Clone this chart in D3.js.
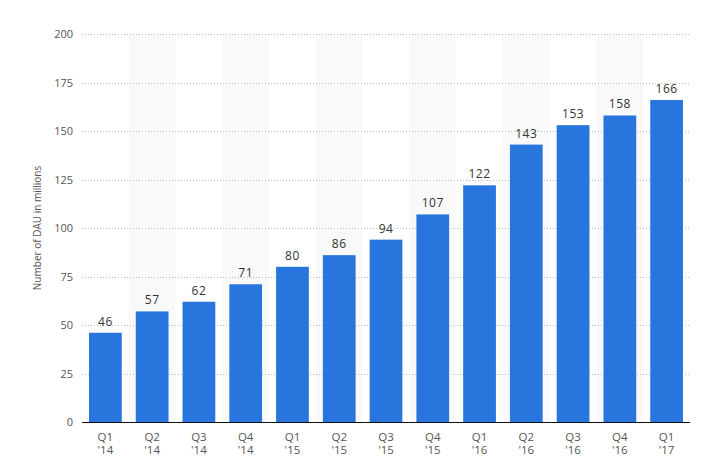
<!DOCTYPE html>
<html>
<head>
<meta charset="utf-8">
<script src="https://cdn.jsdelivr.net/npm/d3@7"></script>
<style>
  body { margin: 0; background: #fff; }
  text { font-family: "Open Sans", "DejaVu Sans", sans-serif; }
</style>
</head>
<body>
<div id="chart-area"></div>
<script>
// data
var quarters = ["Q1", "Q2", "Q3", "Q4", "Q1", "Q2", "Q3", "Q4", "Q1", "Q2", "Q3", "Q4", "Q1"];
var years = ["'14", "'14", "'14", "'14", "'15", "'15", "'15", "'15", "'16", "'16", "'16", "'16", "'17"];
var dau = [46, 57, 62, 71, 80, 86, 94, 107, 122, 143, 153, 158, 166];
var yTicks = [0, 25, 50, 75, 100, 125, 150, 175, 200];

var margin = {top: 34, right: 26, bottom: 46, left: 82},
    width = 716 - margin.left - margin.right,
    height = 468 - margin.top - margin.bottom;

var data = dau.map(function(d, i) {
  return {key: i, q: quarters[i], yr: years[i], value: d};
});

var svg = d3.select("#chart-area")
  .append("svg")
    .attr("width", 716)
    .attr("height", 468)
  .append("g")
    .attr("transform", "translate(" + margin.left + "," + margin.top + ")");

var x = d3.scaleBand()
  .domain(data.map(function(d) { return d.key; }))
  .range([0, width])
  .paddingInner(0.3)
  .paddingOuter(0.15);

var y = d3.scaleLinear()
  .domain([0, 200])
  .range([height, 0]);

// alternating background bands
var step = x.step();
svg.selectAll(".band")
  .data(data.filter(function(d) { return d.key % 2 == 1; }))
  .enter().append("rect")
    .attr("class", "band")
    .attr("x", function(d) { return x(d.key) - step * 0.15; })
    .attr("y", 0)
    .attr("width", step)
    .attr("height", height)
    .attr("fill", "#f9f9f9");

// gridlines
svg.selectAll(".grid")
  .data(yTicks.filter(function(t) { return t > 0; }))
  .enter().append("line")
    .attr("x1", 0)
    .attr("x2", width)
    .attr("y1", function(d) { return Math.round(y(d)) + 0.5; })
    .attr("y2", function(d) { return Math.round(y(d)) + 0.5; })
    .attr("stroke", "#bbb")
    .attr("stroke-width", 1)
    .attr("stroke-dasharray", "1,2");

// y axis labels
var yAxis = svg.append("g")
  .call(d3.axisLeft(y).tickValues(yTicks).tickSize(0).tickPadding(9));
yAxis.select(".domain").remove();
yAxis.selectAll("text")
  .style("font-size", "11px")
  .attr("fill", "#555");

// bars
svg.selectAll(".bar")
  .data(data)
  .enter().append("rect")
    .attr("class", "bar")
    .attr("x", function(d) { return x(d.key); })
    .attr("y", function(d) { return y(d.value); })
    .attr("width", x.bandwidth())
    .attr("height", function(d) { return height - y(d.value); })
    .attr("fill", "#2876dd");

// value labels
svg.selectAll(".label")
  .data(data)
  .enter().append("text")
    .attr("class", "label")
    .attr("x", function(d) { return x(d.key) + x.bandwidth() / 2; })
    .attr("y", function(d) { return y(d.value) - 7; })
    .attr("text-anchor", "middle")
    .style("font-size", "12px")
    .style("letter-spacing", "0.5px")
    .attr("fill", "#333")
    .text(function(d) { return d.value; });

// baseline
svg.append("line")
  .attr("x1", 0)
  .attr("x2", width)
  .attr("y1", height + 0.5)
  .attr("y2", height + 0.5)
  .attr("stroke", "#111")
  .attr("stroke-width", 1);

// x labels, two lines
var xl = svg.selectAll(".xlab")
  .data(data)
  .enter().append("text")
    .attr("class", "xlab")
    .attr("text-anchor", "middle")
    .style("font-size", "11.5px")
    .attr("fill", "#555")
    .attr("transform", function(d) {
      return "translate(" + (x(d.key) + x.bandwidth() / 2) + "," + (height + 19) + ")";
    });
xl.append("tspan").attr("x", 0).attr("dy", 0).text(function(d) { return d.q; });
xl.append("tspan").attr("x", 0).attr("dy", 13).text(function(d) { return d.yr; });

// y axis title
svg.append("text")
  .attr("transform", "translate(" + (-41) + "," + (height / 2) + ")rotate(-90)")
  .attr("text-anchor", "middle")
  .style("font-size", "10px")
  .attr("fill", "#555")
  .text("Number of DAU in millions");
</script>
</body>
</html>
